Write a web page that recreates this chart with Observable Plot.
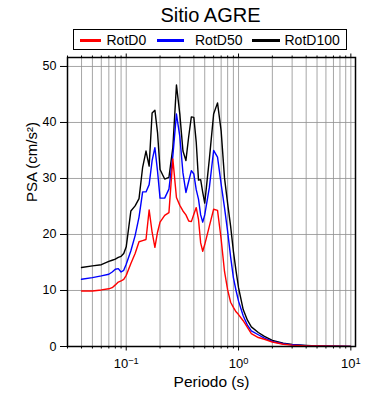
<!DOCTYPE html>
<html>
<head>
<meta charset="utf-8">
<script src="https://cdn.jsdelivr.net/npm/d3@7"></script>
<script src="https://cdn.jsdelivr.net/npm/@observablehq/plot@0.6"></script>
<style>
  body { margin: 0; background: #fff; }
  #wrap { position: relative; width: 390px; height: 400px; font-family: "Liberation Sans", Arial, Helvetica, sans-serif; color: #000; }
  #wrap svg { position: absolute; left: 0; top: 0; }
  .abs { position: absolute; white-space: nowrap; }
  #title { left: 0; width: 421px; top: 5px; text-align: center; font-size: 20px; line-height: 20px; }
  #legend { left: 73px; top: 29px; width: 274px; height: 21px; box-sizing: border-box; border: 1.5px solid #000; background: #fff; }
  .sw { position: absolute; height: 3px; top: 38.5px; }
  .lt { position: absolute; top: 33px; font-size: 14px; line-height: 14px; }
</style>
</head>
<body>
<div id="wrap"></div>
<script>
// ---- data ----
const periods = [0.04, 0.05, 0.06, 0.07, 0.075, 0.08, 0.085, 0.09, 0.095, 0.1,
  0.11, 0.12, 0.13, 0.14, 0.15, 0.16, 0.17, 0.18, 0.19, 0.2,
  0.22, 0.24, 0.26, 0.28, 0.3, 0.32, 0.34, 0.36, 0.38, 0.4,
  0.42, 0.44, 0.46, 0.48, 0.5, 0.55, 0.6, 0.65, 0.7, 0.75,
  0.8, 0.85, 0.9, 0.95, 1.0, 1.1, 1.2, 1.3, 1.5, 1.7,
  2.0, 2.5, 3.0, 4.0, 5.0, 7.0, 10.0];

const rotD0 = [9.9, 9.9, 10.1, 10.3, 10.5, 11.0, 11.5, 11.7, 12.0, 12.7,
  14.8, 16.6, 18.7, 18.9, 19.1, 24.4, 20.4, 17.7, 20.4, 22.2,
  23.4, 23.9, 33.5, 26.6, 25.2, 24.2, 23.5, 22.4, 22.3, 23.6,
  24.8, 22.7, 18.5, 17.0, 18.2, 21.5, 24.5, 24.3, 19.2, 13.4,
  10.1, 7.9, 7.0, 6.2, 5.7, 4.6, 3.4, 2.3, 1.6, 1.3,
  0.8, 0.4, 0.25, 0.12, 0.08, 0.04, 0.02];

const rotD50 = [12.0, 12.3, 12.6, 12.9, 13.3, 13.8, 13.9, 13.3, 13.6, 14.7,
  17.1, 19.8, 23.1, 27.6, 27.6, 28.9, 33.2, 35.5, 31.3, 26.5,
  26.5, 28.1, 34.0, 41.5, 37.5, 31.0, 27.5, 29.5, 31.4, 30.8,
  28.0, 26.3, 23.5, 22.2, 23.5, 28.4, 35.0, 33.8, 29.0, 24.8,
  20.5, 16.0, 12.3, 10.0, 8.1, 5.5, 3.8, 2.8, 2.1, 1.5,
  0.9, 0.5, 0.3, 0.15, 0.1, 0.05, 0.02];

const rotD100 = [14.1, 14.4, 14.6, 15.2, 15.4, 15.6, 15.9, 16.1, 16.6, 17.8,
  24.2, 25.1, 26.4, 32.0, 34.9, 32.2, 41.7, 42.2, 38.2, 31.6,
  29.9, 30.2, 35.5, 46.7, 41.5, 34.9, 33.2, 37.5, 41.0, 40.9,
  36.5, 29.7, 29.8, 27.5, 25.6, 33.5, 41.5, 43.5, 38.5, 30.1,
  25.5, 21.5, 17.0, 13.5, 10.5, 6.6, 4.7, 3.5, 2.5, 1.8,
  1.1, 0.6, 0.35, 0.2, 0.12, 0.06, 0.03];

const seriesNames = ["RotD0", "RotD50", "RotD100"];
const seriesColors = ["#ff0000", "#0000ff", "#000000"];

const xMajorTicks = [0.1, 1, 10];
const xMinorTicks = [0.03, 0.04, 0.05, 0.06, 0.07, 0.08, 0.09,
  0.2, 0.3, 0.4, 0.5, 0.6, 0.7, 0.8, 0.9,
  2, 3, 4, 5, 6, 7, 8, 9];
const yTicks = [0, 10, 20, 30, 40, 50];

const titleText = "Sitio AGRE";
const xLabel = "Periodo (s)";
const yLabel = "PSA (cm/s²)";

// ---- build table (black first, red drawn last) ----
const seriesValues = {RotD0: rotD0, RotD50: rotD50, RotD100: rotD100};
const rows = [];
["RotD100", "RotD50", "RotD0"].forEach(s => {
  periods.forEach((T, i) => rows.push({T, v: seriesValues[s][i], s}));
});

const gridColor = "#8f8f8f";

const chart = Plot.plot({
  width: 390,
  height: 400,
  marginTop: 57,
  marginLeft: 67,
  marginRight: 35,
  marginBottom: 54,
  style: {fontFamily: '"Liberation Sans", Arial, Helvetica, sans-serif', background: "#fff", color: "#000"},
  x: {type: "log", domain: [0.03, 11]},
  y: {domain: [0, 51.6]},
  color: {domain: seriesNames, range: seriesColors},
  marks: [
    Plot.gridX(xMinorTicks.concat(xMajorTicks), {stroke: gridColor, strokeOpacity: 1, strokeWidth: 0.8}),
    Plot.gridY(yTicks.slice(1), {stroke: gridColor, strokeOpacity: 1, strokeWidth: 0.8}),
    Plot.line(rows, {x: "T", y: "v", z: "s", stroke: "s", strokeWidth: 1.4}),
    Plot.frame({stroke: "#000", strokeWidth: 1.5}),
    Plot.axisX(xMinorTicks, {anchor: "bottom", tickSize: 2.5, tickFormat: () => "", label: null, stroke: "#000"}),
    Plot.axisX(xMajorTicks, {anchor: "bottom", tickSize: 4.5, tickPadding: 7.5, fontSize: 13,
      tickFormat: d => "10^" + Math.round(Math.log10(d)), label: null, stroke: "#000"}),
    Plot.axisX(xMinorTicks, {anchor: "top", tickSize: 2.5, tickFormat: () => "", label: null, stroke: "#000"}),
    Plot.axisX(xMajorTicks, {anchor: "top", tickSize: 4.5, tickFormat: () => "", label: null, stroke: "#000"}),
    Plot.axisY(yTicks, {anchor: "left", tickSize: 7, tickPadding: 4, fontSize: 12.5, label: null, stroke: "#000"}),
    Plot.text([xLabel], {frameAnchor: "bottom", dy: 40.5, lineAnchor: "bottom", fontSize: 15.5, fill: "#000"}),
    Plot.text([yLabel], {frameAnchor: "left", rotate: -90, dx: -31, lineAnchor: "bottom", fontSize: 15, fill: "#000"})
  ]
});

// superscript exponents on the major tick labels
chart.querySelectorAll('g[aria-label="x-axis tick label"] text').forEach(t => {
  const s = t.textContent;
  if (s.startsWith("10^")) {
    const e = s.slice(3).replace("-", "\u2212");
    t.textContent = "10";
    const sup = document.createElementNS("http://www.w3.org/2000/svg", "tspan");
    sup.setAttribute("dy", "-0.42em");
    sup.setAttribute("font-size", "0.72em");
    sup.textContent = e;
    t.appendChild(sup);
  }
});

const wrap = document.getElementById("wrap");
wrap.appendChild(chart);

const title = document.createElement("div");
title.className = "abs"; title.id = "title"; title.textContent = titleText;
wrap.appendChild(title);

const legend = document.createElement("div");
legend.className = "abs"; legend.id = "legend";
wrap.appendChild(legend);

const swatchPos = [[80, 21, 106.5], [157, 27, 195], [252, 28, 284.5]];
seriesNames.forEach((name, i) => {
  const [sx, sw, tx] = swatchPos[i];
  const line = document.createElement("div");
  line.className = "sw";
  line.style.left = sx + "px"; line.style.width = sw + "px";
  line.style.background = seriesColors[i];
  wrap.appendChild(line);
  const lab = document.createElement("div");
  lab.className = "lt";
  lab.style.left = tx + "px";
  lab.textContent = name;
  wrap.appendChild(lab);
});
</script>
</body>
</html>
